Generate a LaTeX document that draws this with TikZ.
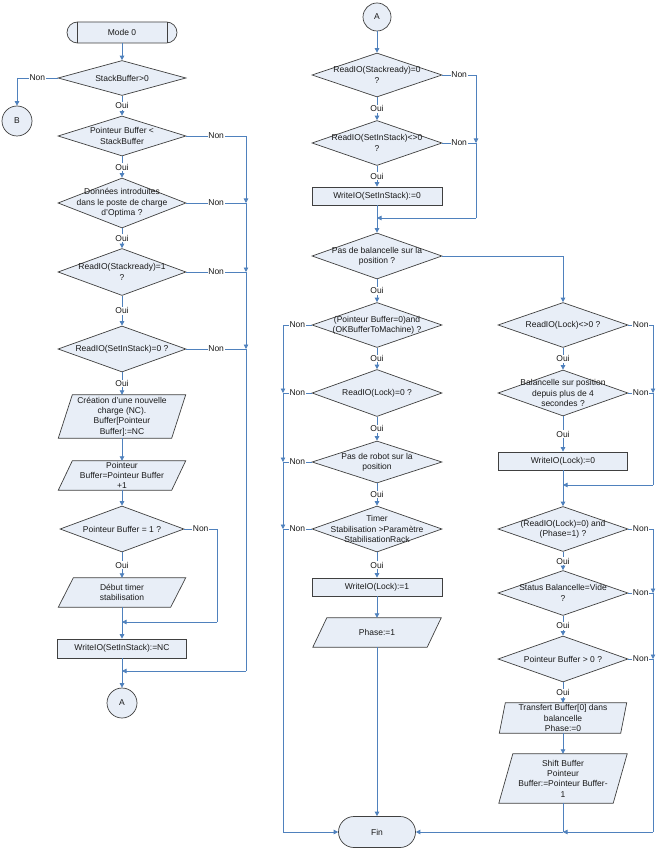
\documentclass[tikz,border=0pt]{standalone}
\usepackage{fontspec}
\setmainfont{Liberation Sans}
\usetikzlibrary{shapes.geometric,shapes.misc,arrows.meta}
\definecolor{boxfill}{HTML}{E8EEF7}
\definecolor{boxline}{HTML}{404040}
\definecolor{conncol}{HTML}{4F81BD}
\definecolor{txtcol}{HTML}{1A1A1A}
\newcommand\mydec[6]{\node[dia={#4}{#5}] (#1) at (#2,#3) {};\node[txt] (#1-t) at (#1) {#6};}
\newcommand\mypara[7]{%
  \node[rectangle, minimum width=#4, minimum height=#5, inner sep=0pt] (#1) at (#2,#3) {};
  \draw[shp] ([xshift=#6pt]#1.north west) -- (#1.north east) -- ([xshift=-#6pt]#1.south east) -- (#1.south west) -- cycle;
  \node[txt] (#1-t) at (#1) {#7};}
\begin{document}
\begin{tikzpicture}[x=1pt,y=-1pt,
  shp/.style={draw=boxline, fill=boxfill, line width=0.7pt, inner sep=0pt},
  txt/.style={font=\fontsize{8.5}{10.3}\selectfont, text=txtcol, align=center, inner sep=0pt},
  dia/.style 2 args={shp, diamond, minimum width=#1, minimum height=#2},
  rbox/.style 2 args={shp, txt, rectangle, minimum width=#1, minimum height=#2},
  term/.style 2 args={shp, txt, rounded rectangle, minimum width=#1, minimum height=#2},
  conn/.style={draw=conncol, line width=0.8pt},
  arr/.style={conn, -{Triangle[length=4.5pt,width=4.5pt]}},
  lab/.style={fill=white, font=\fontsize{8.5}{10.3}\selectfont, text=txtcol, inner sep=0.8pt}]
\fill[white] (0,0) rectangle (658,850);
\useasboundingbox (0,0) rectangle (658,850);

% ---------------- left column ----------------
\node[term={110}{21}] (m0) at (122,32.5) {Mode 0};
\draw[draw=boxline, line width=0.7pt] ([xshift=-45pt]m0.north) -- ([xshift=-45pt]m0.south);
\draw[draw=boxline, line width=0.7pt] ([xshift=45pt]m0.north) -- ([xshift=45pt]m0.south);
\mydec{d1}{122}{78}{128}{35}{StackBuffer>0}
\node[shp, txt, circle, minimum size=30] (B) at (17,121) {B};
\mydec{d2}{122}{136}{128}{40}{Pointeur Buffer <\\StackBuffer}
\mydec{d3}{122}{203}{128}{50}{Données introduites\\dans le poste de charge\\d'Optima ?}
\mydec{d4}{122}{272}{128}{47}{ReadIO(Stackready)=1\\?}
\mydec{d5}{122}{349}{128}{46}{ReadIO(SetInStack)=0 ?}
\mypara{p1}{122}{416.5}{127}{43}{14}{Création d'une nouvelle\\charge (NC).\\Buffer[Pointeur\\Buffer]:=NC}
\mypara{p2}{122}{475.5}{127}{29}{14}{Pointeur\\Buffer=Pointeur Buffer\\+1}
\mydec{d6}{122}{529}{124}{46}{Pointeur Buffer = 1 ?}
\mypara{p3}{122}{592.5}{127}{29}{15}{Début timer\\stabilisation}
\node[rbox={129}{19}] (r1) at (122,648.5) {WriteIO(SetInStack):=NC};
\node[shp, txt, circle, minimum size=30] (A1) at (122,703) {A};

\coordinate (bL) at (17,78);
\coordinate (jA3) at (246,203);
\coordinate (jA4) at (246,272);
\coordinate (jA5) at (246,349);
\coordinate (jA6) at (246,671);
\coordinate (mA) at (122,671);
\coordinate (jA7) at (217,622);
\coordinate (mB) at (122,622);

\draw[arr] (m0.south) -- (d1.north);
\draw[conn] (d1.west) -- node[lab]{Non} (bL);
\draw[arr] (bL) -- (B.north);
\draw[arr] (d1.south) -- node[lab]{Oui} (d2.north);
\draw[arr] (d2.east) -| node[lab,pos=0.25]{Non} (jA3);
\draw[arr] (d3.east) -| node[lab,pos=0.25]{Non} (jA4);
\draw[arr] (d4.east) -| node[lab,pos=0.25]{Non} (jA5);
\draw[conn] (d5.east) -| node[lab,pos=0.25]{Non} (jA6);
\draw[arr] (jA6) -- (mA);
\draw[arr] (d2.south) -- node[lab]{Oui} (d3.north);
\draw[arr] (d3.south) -- node[lab]{Oui} (d4.north);
\draw[arr] (d4.south) -- node[lab]{Oui} (d5.north);
\draw[arr] (d5.south) -- node[lab]{Oui} (p1.north);
\draw[arr] (p1.south) -- (p2.north);
\draw[arr] (p2.south) -- (d6.north);
\draw[arr] (d6.south) -- node[lab]{Oui} (p3.north);
\draw[conn] (d6.east) -| node[lab,pos=0.25]{Non} (jA7);
\draw[arr] (jA7) -- (mB);
\draw[arr] (p3.south) -- (r1.north);
\draw[arr] (r1.south) -- (A1.north);

% ---------------- middle column ----------------
\node[shp, txt, circle, minimum size=28] (A2) at (377,17) {A};
\mydec{e1}{377}{75}{130}{44}{ReadIO(Stackready)=0\\?}
\mydec{e2}{377}{143}{130}{45}{ReadIO(SetInStack)<>0\\?}
\node[rbox={130}{18}] (r2) at (377,196) {WriteIO(SetInStack):=0};
\mydec{e3}{377}{256}{130}{46}{Pas de balancelle sur la\\position ?}
\mydec{e4}{377}{325}{130}{45}{(Pointeur Buffer=0)and\\(OKBufferToMachine) ?}
\mydec{e5}{377}{393}{130}{47}{ReadIO(Lock)=0 ?}
\mydec{e6}{377}{462}{130}{42}{Pas de robot sur la\\position}
\mydec{e7}{377}{529}{130}{46}{Timer\\Stabilisation >Paramètre\\StabilisationRack}
\node[rbox={130}{18}] (r3) at (377,587) {WriteIO(Lock):=1};
\mypara{p4}{377}{632.5}{128}{29}{14}{Phase:=1}
\node[term={77}{31}] (fin) at (377,832) {Fin};

\coordinate (jB2) at (476,143);
\coordinate (jB3) at (476,218);
\coordinate (mC) at (377,218);
\coordinate (jD5) at (283,393);
\coordinate (jD6) at (283,462);
\coordinate (jD7) at (283,529);
\coordinate (jD8) at (283,832);

\draw[arr] (A2.south) -- (e1.north);
\draw[arr] (e1.east) -| node[lab,pos=0.25]{Non} (jB2);
\draw[conn] (e2.east) -| node[lab,pos=0.25]{Non} (jB3);
\draw[arr] (jB3) -- (mC);
\draw[arr] (e1.south) -- node[lab]{Oui} (e2.north);
\draw[arr] (e2.south) -- node[lab]{Oui} (r2.north);
\draw[arr] (r2.south) -- (e3.north);
\draw[arr] (e3.south) -- node[lab]{Oui} (e4.north);
\draw[arr] (e4.south) -- node[lab]{Oui} (e5.north);
\draw[arr] (e5.south) -- node[lab]{Oui} (e6.north);
\draw[arr] (e6.south) -- node[lab]{Oui} (e7.north);
\draw[arr] (e7.south) -- node[lab]{Oui} (r3.north);
\draw[arr] (r3.south) -- (p4.north);
\draw[arr] (p4.south) -- (fin.north);
\draw[arr] (e4.west) -| node[lab,pos=0.25]{Non} (jD5);
\draw[arr] (e5.west) -| node[lab,pos=0.25]{Non} (jD6);
\draw[arr] (e6.west) -| node[lab,pos=0.25]{Non} (jD7);
\draw[conn] (e7.west) -| node[lab,pos=0.25]{Non} (jD8);
\draw[arr] (jD8) -- (fin.west);

% ---------------- right column ----------------
\mydec{f1}{563}{325}{130}{45}{ReadIO(Lock)<>0 ?}
\mydec{f2}{563}{393}{130}{46}{Balancelle sur position\\depuis plus de 4\\secondes ?}
\node[rbox={129}{18}] (r4) at (563,461) {WriteIO(Lock):=0};
\mydec{f3}{563}{529}{130}{45}{(ReadIO(Lock)=0) and\\(Phase=1) ?}
\mydec{f4}{563}{593}{130}{45}{Status Balancelle=Vide\\?}
\mydec{f5}{563}{659}{130}{46}{Pointeur Buffer > 0 ?}
\mypara{p5}{563}{718}{127}{30}{6}{Transfert Buffer[0] dans\\balancelle\\Phase:=0}
\mypara{p6}{563}{778.5}{128}{49}{14}{Shift Buffer\\Pointeur\\Buffer:=Pointeur Buffer-\\1}

\coordinate (jE2) at (653,393);
\coordinate (jE3) at (653,485);
\coordinate (mE) at (563,485);
\coordinate (jE5) at (653,593);
\coordinate (jE6) at (653,659);
\coordinate (jE7) at (653,832);
\coordinate (mF) at (563,832);

\draw[arr] (e3.east) -| (f1.north);
\draw[arr] (f1.south) -- node[lab]{Oui} (f2.north);
\draw[arr] (f2.south) -- node[lab]{Oui} (r4.north);
\draw[arr] (r4.south) -- (f3.north);
\draw[arr] (f3.south) -- node[lab]{Oui} (f4.north);
\draw[arr] (f4.south) -- node[lab]{Oui} (f5.north);
\draw[arr] (f5.south) -- node[lab]{Oui} (p5.north);
\draw[arr] (p5.south) -- (p6.north);
\draw[arr] (f1.east) -| node[lab,pos=0.25]{Non} (jE2);
\draw[conn] (f2.east) -| node[lab,pos=0.25]{Non} (jE3);
\draw[arr] (jE3) -- (mE);
\draw[arr] (f3.east) -| node[lab,pos=0.25]{Non} (jE5);
\draw[arr] (f4.east) -| node[lab,pos=0.25]{Non} (jE6);
\draw[conn] (f5.east) -| node[lab,pos=0.25]{Non} (jE7);
\draw[arr] (jE7) -- (mF);
\draw[conn] (p6.south) -- (mF);
\draw[arr] (mF) -- (fin.east);
\end{tikzpicture}
\end{document}
